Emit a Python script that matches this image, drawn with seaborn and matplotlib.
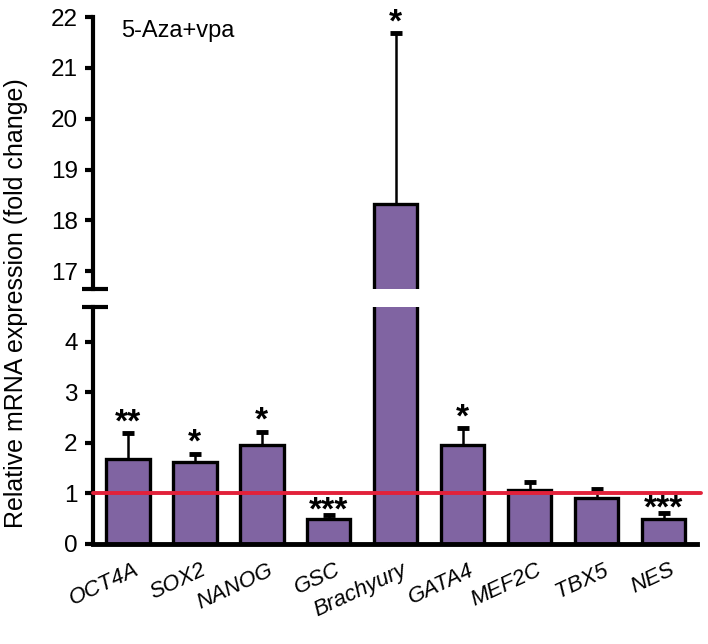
import numpy as np
import pandas as pd
import matplotlib
matplotlib.use('Agg')
import matplotlib.pyplot as plt
import seaborn as sns

# ---------------------------------------------------------------------------
# Data
# ---------------------------------------------------------------------------
genes  = ['OCT4A', 'SOX2', 'NANOG', 'GSC', 'Brachyury', 'GATA4', 'MEF2C', 'TBX5', 'NES']
fold   = [1.68, 1.62, 1.96, 0.50, 18.32, 1.96, 1.07, 0.91, 0.50]
err_up = [0.51, 0.16, 0.26, 0.07, 3.36, 0.33, 0.16, 0.18, 0.11]
stars  = ['**', '*', '*', '***', '*', '*', '', '', '***']

top_yticks = [17, 18, 19, 20, 21, 22]
bot_yticks = [0, 1, 2, 3, 4]

BAR_COLOR = '#8064A2'
LINE_RED  = '#E2213A'

sns.set_theme(style="white")
plt.rcParams['font.family'] = ['Liberation Sans', 'DejaVu Sans']
plt.rcParams.update({'text.color': 'black', 'xtick.color': 'black',
                     'ytick.color': 'black', 'axes.labelcolor': 'black'})

df = pd.DataFrame({'gene': genes, 'fold': fold})
x = np.arange(len(genes))
tops = np.array(fold) + np.array(err_up)

fig = plt.figure(figsize=(7.08, 6.44), dpi=100)
L, W = 93 / 708, 604 / 708
ax_top = fig.add_axes([L, 1 - 289 / 644, W, (289 - 17) / 644])
ax_bot = fig.add_axes([L, 1 - 544 / 644, W, (544 - 307) / 644])

for ax in (ax_top, ax_bot):
    sns.barplot(data=df, x='gene', y='fold', ax=ax, color=BAR_COLOR,
                saturation=1, errorbar=None, width=0.65,
                edgecolor='black', linewidth=2.4)
    # upper-only error bars with a single cap
    ax.errorbar(x, fold, yerr=[np.zeros(len(fold)), err_up], fmt='none',
                ecolor='black', elinewidth=1.8, capsize=0)
    ax.plot(x, tops, ls='none', marker='_', ms=8, mew=3.5, color='black')
    ax.set_xlim(-0.52, 8.5)
    ax.set_xlabel('')
    ax.set_ylabel('')
    for s in ('top', 'right'):
        ax.spines[s].set_visible(False)
    ax.spines['left'].set_linewidth(3)
    ax.spines['left'].set_color('black')
    ax.tick_params(axis='y', direction='out', length=6, width=3, color='black',
                   labelcolor='black', labelsize=17.5, pad=5, left=True)

# top panel (break region)
ax_top.set_ylim(16.65, 22)
ax_top.set_yticks(top_yticks)
ax_top.spines['bottom'].set_visible(False)
ax_top.set_xticks([])

# bottom panel
ax_bot.set_ylim(0, 4.69)
ax_bot.set_yticks(bot_yticks)
ax_bot.spines['bottom'].set_linewidth(3.5)
ax_bot.spines['bottom'].set_color('black')
ax_bot.tick_params(axis='x', length=0, pad=4, labelcolor='black')
ax_bot.set_xticks(x)
ax_bot.set_xticklabels(genes, rotation=25, ha='right', rotation_mode='anchor',
                       fontsize=16, style='italic')
for lab in ax_bot.get_xticklabels():
    lab.set_transform(lab.get_transform() +
                      matplotlib.transforms.ScaledTranslation(0.06, -0.1, fig.dpi_scale_trans))

# red reference line at fold change = 1
ax_bot.axhline(1, xmin=0, xmax=1.007, color=LINE_RED, lw=2.8, clip_on=False, zorder=5)

# significance stars (the triple ones sit tight on their short bars)
for ax in (ax_top, ax_bot):
    lo, hi = ax.get_ylim()
    for i, (t, s) in enumerate(zip(tops, stars)):
        if s and lo < t < hi:
            dy = -8.5 if s == '***' else -3.5
            ax.annotate(s, (i, t), xytext=(0, dy), textcoords='offset points',
                        ha='center', va='bottom', fontsize=24, fontweight='bold',
                        color='black', annotation_clip=False, zorder=6)

# axis break marks
for ax, yy in ((ax_top, 0), (ax_bot, 1)):
    ax.plot([-11 / 604, 15 / 604], [yy, yy], transform=ax.transAxes,
            color='black', lw=3, clip_on=False, solid_capstyle='butt')

ax_top.text(0.046, 0.95, '5-Aza+vpa', transform=ax_top.transAxes,
            fontsize=17, ha='left', va='center', color='black')

fig.text(16 / 708, 1 - 303 / 644, 'Relative mRNA expression (fold change)',
         rotation=90, ha='center', va='center', fontsize=18, color='black')

fig.savefig('out.png', dpi=100)
